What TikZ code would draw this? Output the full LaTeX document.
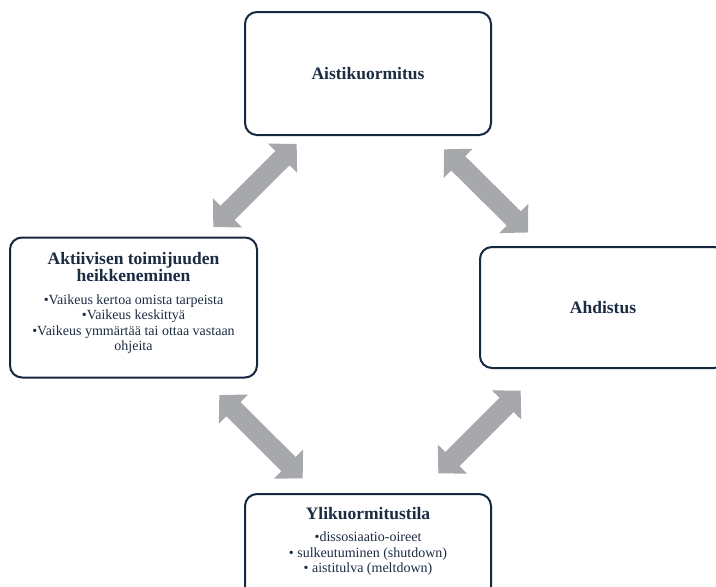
\documentclass[tikz,border=0pt]{standalone}
\usepackage{fontspec}
\setmainfont{Liberation Serif}
\usetikzlibrary{arrows.meta,positioning}
\definecolor{navyline}{HTML}{16283F}
\definecolor{navytext}{HTML}{1C2C42}
\definecolor{flowgray}{HTML}{A7A8AB}
\newcommand{\boxhead}[1]{{\fontsize{17.5}{17}\selectfont\textbf{#1}}}
\tikzset{
  cyclebox/.style={draw=navyline, line width=2pt, fill=white, rounded corners=12pt,
                   minimum width=246pt, minimum height=123pt, inner sep=4pt,
                   align=center, text=navytext, font=\fontsize{14}{15.5}\selectfont},
  bodytext/.style={align=center, text=navytext, inner sep=0pt,
                   font=\fontsize{14}{15.5}\selectfont},
  duoarr/.style={{Triangle[width=40pt,length=20pt]}-{Triangle[width=40pt,length=20pt]},
                 line width=20pt, color=flowgray}}

\begin{document}
\begin{tikzpicture}[x=1pt,y=-1pt]
  \clip (0,0) rectangle (716,587);
  \fill[white] (0,0) rectangle (716,587);
  % the four stages of the cycle
  \node[cyclebox] (aisti) at (368,73.5) {\boxhead{Aistikuormitus}};
  \node[cyclebox, minimum height=121pt] (ahdis) at (603,307.5) {\boxhead{Ahdistus}};
  \node[cyclebox, minimum width=247pt, minimum height=140pt] (aktiiv) at (133.5,307.5)
    {\boxhead{Aktiivisen toimijuuden}\\[0pt]
     \boxhead{heikkeneminen}\\[7pt]
     •Vaikeus kertoa omista tarpeista\\
     •Vaikeus keskittyä\\
     •Vaikeus ymmärtää tai ottaa vastaan\\
     ohjeita\\[-4pt]};
  \node[cyclebox] (ylik) at (368,555.5) {};
  \node[bodytext, below=14pt of ylik.north] (yliktxt)
    {\boxhead{Ylikuormitustila}\\[7pt]
     •dissosiaatio-oireet\\
     • sulkeutuminen (shutdown)\\
     • aistitulva (meltdown)};
  % arrow ends
  \coordinate (a1s) at (213.3,227);   \coordinate (a1e) at (296.7,144);
  \coordinate (a2s) at (444,149.3);   \coordinate (a2e) at (528,232.5);
  \coordinate (a3s) at (520.7,390.7); \coordinate (a3e) at (438.3,473.3);
  \coordinate (a4s) at (219.3,395);   \coordinate (a4e) at (302.7,478.3);
  \draw[duoarr] (a1s) -- (a1e);
  \draw[duoarr] (a2s) -- (a2e);
  \draw[duoarr] (a3s) -- (a3e);
  \draw[duoarr] (a4s) -- (a4e);
\end{tikzpicture}
\end{document}
